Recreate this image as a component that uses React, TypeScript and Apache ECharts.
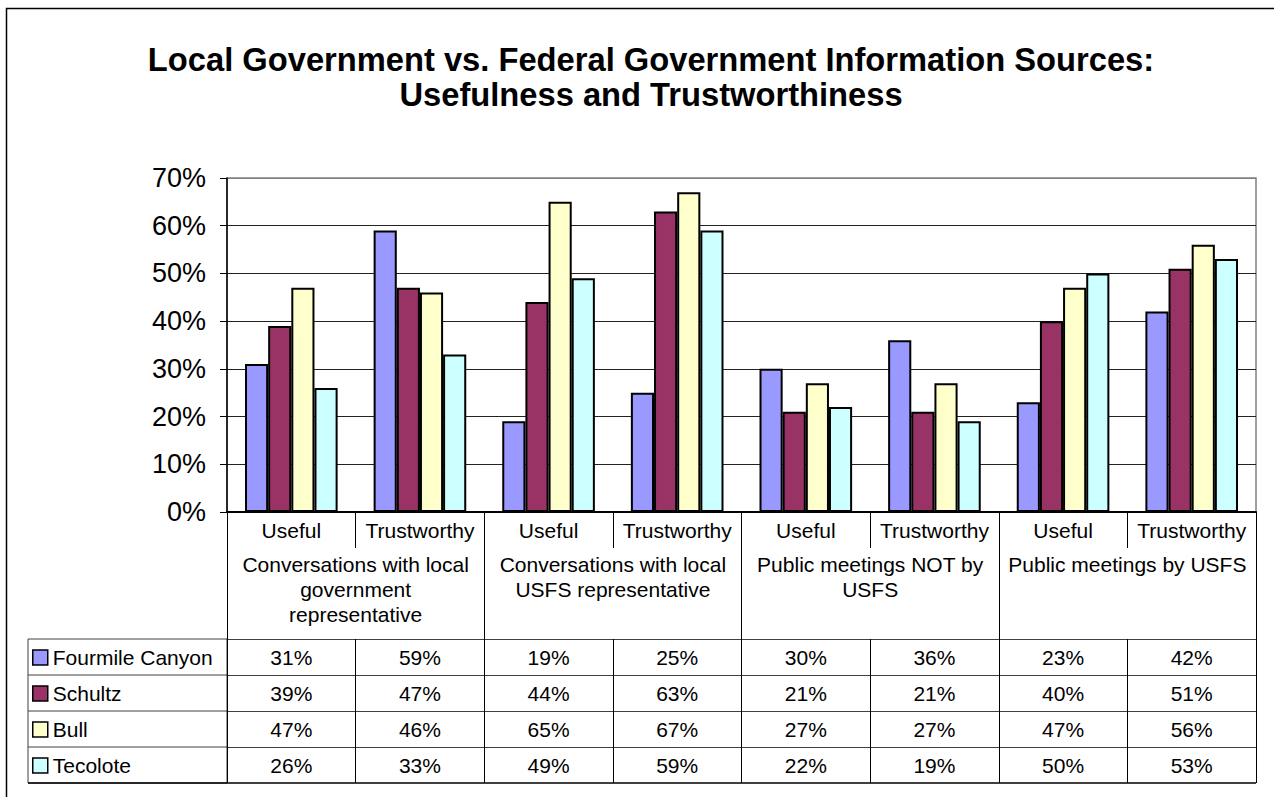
import React, { useEffect, useRef } from 'react';
import * as echarts from 'echarts';

const titleLines = [
  'Local Government vs. Federal Government Information Sources:',
  'Usefulness and Trustworthiness',
];
const subCategories = ['Useful', 'Trustworthy', 'Useful', 'Trustworthy', 'Useful', 'Trustworthy', 'Useful', 'Trustworthy'];
const groups = [
  'Conversations with local\ngovernment\nrepresentative',
  'Conversations with local\nUSFS representative',
  'Public meetings NOT by\nUSFS',
  'Public meetings by USFS',
];
const seriesNames = ['Fourmile Canyon', 'Schultz', 'Bull', 'Tecolote'];
const fourmile = [31, 59, 19, 25, 30, 36, 23, 42];
const schultz = [39, 47, 44, 63, 21, 21, 40, 51];
const bull = [47, 46, 65, 67, 27, 27, 47, 56];
const tecolote = [26, 33, 49, 59, 22, 19, 50, 53];
const seriesValues = [fourmile, schultz, bull, tecolote];
const colors = ['#9999FF', '#993366', '#FFFFCC', '#CCFFFF'];
const yMin = 0;
const yMax = 70;
const yInterval = 10;

const FONT = "Arial, 'Liberation Sans', sans-serif";

export default function App() {
  const ref = useRef<HTMLDivElement>(null);
  useEffect(() => {
    if (!ref.current) return;
    const chart = echarts.init(ref.current, undefined, { renderer: 'svg' });

    const gridLeft = 227;
    const gridTop = 178;
    const gridRight = 1256;
    const gridBottom = 512;
    const tableTop = 639;
    const rowH = 36;
    const tableBottom = tableTop + rowH * seriesValues.length;
    const tableLine = '#404040';

    const rowAxes = seriesValues.map((vals, i) => ({
      type: 'category',
      position: 'bottom',
      gridIndex: 0,
      offset: tableTop - gridBottom + rowH * i,
      data: subCategories,
      axisLine: { show: true, lineStyle: { color: tableLine, width: 1 } },
      axisTick: { show: true, length: rowH, interval: 0, lineStyle: { color: '#000', width: 1 } },
      axisLabel: {
        interval: 0,
        margin: 7,
        fontSize: 21,
        lineHeight: 22,
        color: '#000',
        fontFamily: FONT,
        formatter: (_v: string, idx: number) => vals[idx] + '%',
      },
      splitLine: { show: false },
    }));

    const graphics: any[] = [
      {
        type: 'rect',
        shape: { x: 6.5, y: 8.5, width: 1300, height: 820 },
        style: { fill: 'none', stroke: '#000', lineWidth: 1.5 },
        silent: true,
      },
      ...titleLines.map((t, i) => ({
        type: 'text',
        x: 651,
        y: 59 + 35 * i,
        style: {
          text: t,
          fill: '#000',
          font: `bold 32.7px ${FONT}`,
          textAlign: 'center',
          textVerticalAlign: 'middle',
        },
      })),
      {
        type: 'rect',
        shape: { x: 28, y: tableTop, width: gridLeft - 28, height: tableBottom - tableTop },
        style: { fill: 'none', stroke: tableLine, lineWidth: 1 },
        silent: true,
      },
      ...seriesValues.slice(1).map((_, i) => ({
        type: 'line',
        shape: { x1: 28, y1: tableTop + rowH * (i + 1), x2: gridLeft, y2: tableTop + rowH * (i + 1) },
        style: { stroke: tableLine, lineWidth: 1 },
        silent: true,
      })),
      {
        type: 'line',
        shape: { x1: 28, y1: tableBottom, x2: gridRight, y2: tableBottom },
        style: { stroke: '#000', lineWidth: 1.5 },
        silent: true,
      },
    ];

    chart.setOption({
      animation: false,
      backgroundColor: '#fff',
      textStyle: { fontFamily: FONT },
      grid: {
        left: gridLeft,
        top: gridTop,
        width: gridRight - gridLeft,
        height: gridBottom - gridTop,
        show: true,
        borderColor: '#808080',
        borderWidth: 1.5,
        backgroundColor: 'transparent',
      },
      legend: {
        orient: 'vertical',
        left: 32,
        top: 647,
        padding: 0,
        itemWidth: 15,
        itemHeight: 15,
        itemGap: 15,
        selectedMode: false,
        icon: 'rect',
        data: seriesNames,
        itemStyle: { borderColor: '#000', borderWidth: 1.5 },
        textStyle: { fontSize: 21, color: '#000', fontFamily: FONT },
      },
      xAxis: [
        {
          type: 'category',
          position: 'bottom',
          data: subCategories,
          axisLine: { show: true, lineStyle: { color: '#000', width: 2 } },
          axisTick: { show: true, length: 36, interval: 0, lineStyle: { color: '#000', width: 1 } },
          axisLabel: {
            interval: 0,
            margin: 7,
            fontSize: 21,
            lineHeight: 22,
            color: '#000',
            fontFamily: FONT,
          },
          splitLine: { show: false },
        },
        {
          type: 'category',
          position: 'bottom',
          offset: 0,
          data: groups,
          axisLine: { show: false },
          axisTick: { show: true, length: tableBottom - gridBottom, interval: 0, lineStyle: { color: '#000', width: 1 } },
          axisLabel: {
            interval: 0,
            margin: 40,
            fontSize: 21,
            lineHeight: 25,
            color: '#000',
            fontFamily: FONT,
            align: 'center',
          },
          splitLine: { show: false },
        },
        ...rowAxes,
      ],
      yAxis: {
        type: 'value',
        min: yMin,
        max: yMax,
        interval: yInterval,
        axisLine: { show: true, lineStyle: { color: '#000', width: 1.5 } },
        axisTick: { show: true, length: 7, lineStyle: { color: '#000', width: 1 } },
        axisLabel: {
          formatter: '{value}%',
          fontSize: 27,
          margin: 21,
          color: '#000',
          fontFamily: FONT,
        },
        splitLine: {
          show: true,
          lineStyle: {
            color: ['#000', '#222', '#222', '#222', '#222', '#222', '#222', '#808080'],
            width: 1,
          },
        },
      },
      series: seriesNames.map((name, i) => ({
        name,
        type: 'bar',
        xAxisIndex: 0,
        data: seriesValues[i],
        barGap: '0%',
        barCategoryGap: '28%',
        itemStyle: { color: colors[i], borderColor: '#000', borderWidth: 2 },
        emphasis: { disabled: true },
      })),
      graphic: graphics,
    });

    return () => chart.dispose();
  }, []);

  return (
    <div
      ref={ref}
      style={{ position: 'fixed', left: 0, top: 0, width: 1274, height: 797, background: '#fff' }}
    />
  );
}
